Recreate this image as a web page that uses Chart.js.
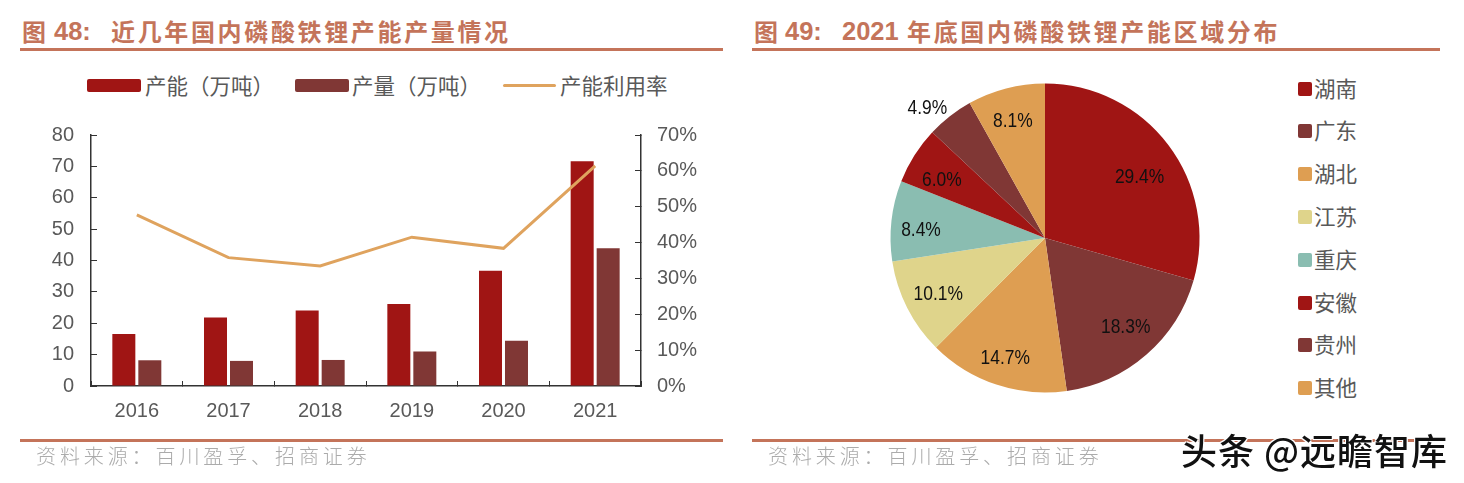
<!DOCTYPE html>
<html>
<head>
<meta charset="utf-8">
<script src="https://cdn.jsdelivr.net/npm/chart.js@4/dist/chart.umd.min.js"></script>
<style>
  html, body { margin: 0; padding: 0; background: #fff; }
  body { width: 1464px; height: 483px; position: relative; overflow: hidden; font-family: "Noto Sans CJK SC", sans-serif; }
  canvas { position: absolute; }
  .title { position: absolute; top: 14px; font-size: 24px; font-weight: 700; color: #C4745A; letter-spacing: 2.65px; white-space: pre; line-height: 34px; }
  .title.num { font-family: "Liberation Sans", Arial, sans-serif; font-size: 25.5px; letter-spacing: 0; }
  .rule { position: absolute; height: 3px; background: #C4745A; }
  .source { position: absolute; top: 441px; font-size: 20px; color: #ABABAB; letter-spacing: 3.9px; white-space: pre; line-height: 30px; font-weight: 300; }
  .legend-text { position: absolute; font-size: 21.5px; color: #595959; white-space: pre; line-height: 30px; }
  .swatch { position: absolute; border-radius: 2px; }
  #mark { position: absolute; left: 1181px; top: 426px; font-size: 36px; line-height: 46px; color: #111; white-space: pre; letter-spacing: 1px; font-weight: 500; text-shadow: 1px 1px 0 #fff, -1px -1px 0 #fff, 1px -1px 0 #fff, -1px 1px 0 #fff; }
</style>
</head>
<body>
<div class="title" style="left:22px">图</div>
<div class="title num" style="left:54px">48:</div>
<div class="title" style="left:111px">近几年国内磷酸铁锂产能产量情况</div>
<div class="rule" style="left:20px;top:48px;width:703px"></div>
<div class="title" style="left:754px">图</div>
<div class="title num" style="left:785px">49:</div>
<div class="title num" style="left:842px">2021</div>
<div class="title" style="left:907px">年底国内磷酸铁锂产能区域分布</div>
<div class="rule" style="left:752px;top:48px;width:688px"></div>

<canvas id="barChart" width="702" height="340" style="left:20px;top:100px"></canvas>
<canvas id="pieChart" width="400" height="360" style="left:845px;top:58px"></canvas>
<div id="legends"></div>

<div class="rule" style="left:20px;top:439px;width:703px"></div>
<div class="source" style="left:36px">资料来源&#xFF1A;百川盈孚、招商证券</div>
<div class="rule" style="left:752px;top:439px;width:688px"></div>
<div class="source" style="left:768px">资料来源&#xFF1A;百川盈孚、招商证券</div>
<div id="mark">头条 @远瞻智库</div>

<script>
// left chart
var years = ['2016', '2017', '2018', '2019', '2020', '2021'];
var capacity = [16.6, 21.8, 24.1, 26.1, 36.7, 71.6];
var output = [8.2, 8.0, 8.3, 11.0, 14.4, 43.9];
var utilization = [47.7, 35.8, 33.5, 41.5, 38.4, 61.4];
var seriesNames = ['产能\uFF08万吨\uFF09', '产量\uFF08万吨\uFF09', '产能利用率'];

// right chart
var regions = ['湖南', '广东', '湖北', '江苏', '重庆', '安徽', '贵州', '其他'];
var shares = [29.4, 18.3, 14.7, 10.1, 8.4, 6.0, 4.9, 8.1];
var regionColors = ['#A01514', '#803735', '#DE9E52', '#DFD48B', '#8ABDB1', '#A01514', '#803735', '#DE9E52'];

var colorCapacity = '#A01514';
var colorOutput = '#803735';
var colorLine = '#DFA35E';
var axisColor = '#333333';
var tickColor = '#595959';
var tickFont = { family: '"Liberation Sans", Arial, sans-serif', size: 20 };

Chart.defaults.animation = false;

new Chart(document.getElementById('barChart').getContext('2d'), {
  type: 'bar',
  data: {
    labels: years,
    datasets: [
      { label: seriesNames[0], data: capacity, backgroundColor: colorCapacity, yAxisID: 'y', order: 1,
        categoryPercentage: 0.567, barPercentage: 0.885 },
      { label: seriesNames[1], data: output, backgroundColor: colorOutput, yAxisID: 'y', order: 1,
        categoryPercentage: 0.567, barPercentage: 0.885 },
      { type: 'line', label: seriesNames[2], data: utilization, borderColor: colorLine, borderWidth: 3,
        pointRadius: 0, tension: 0, yAxisID: 'y1', order: 0 }
    ]
  },
  options: {
    responsive: false,
    layout: { padding: { top: 34, left: 0, right: 0, bottom: 0 } },
    plugins: { legend: { display: false }, tooltip: { enabled: false } },
    scales: {
      x: {
        grid: { drawOnChartArea: false, tickLength: -5, tickColor: axisColor, offset: true },
        border: { color: axisColor, width: 1.5 },
        ticks: { color: tickColor, font: tickFont, padding: 18, maxRotation: 0 },
        afterFit: function(scale) { scale.height = 54; }
      },
      y: {
        position: 'left', min: 0, max: 80,
        grid: { drawOnChartArea: false, tickLength: -6, tickColor: axisColor },
        border: { color: axisColor, width: 1.5 },
        ticks: { stepSize: 10, color: tickColor, font: tickFont, padding: 23 },
        afterFit: function(scale) { scale.width = 71; }
      },
      y1: {
        position: 'right', min: 0, max: 70,
        grid: { drawOnChartArea: false, tickLength: -6, tickColor: axisColor },
        border: { color: axisColor, width: 1.5 },
        ticks: { stepSize: 10, color: tickColor, font: tickFont, padding: 22,
          callback: function(v) { return v + '%'; } },
        afterFit: function(scale) { scale.width = 81; }
      }
    }
  }
});

// percent labels on the slices, nudged by hand, the 4.9% one sits outside the pie
var labelNudge = [[-1, 12], [2, -1], [-2, 7], [0, 2], [-5, 6], [-2, 7], [-12, 6], [-2, -1]];

var sliceLabels = {
  id: 'sliceLabels',
  afterDatasetsDraw: function(chart) {
    var ctx = chart.ctx;
    ctx.save();
    ctx.font = '20px "Liberation Sans", Arial, sans-serif';
    ctx.fillStyle = '#111111';
    ctx.textAlign = 'center';
    ctx.textBaseline = 'middle';
    chart.getDatasetMeta(0).data.forEach(function(arc, i) {
      var mid = (arc.startAngle + arc.endAngle) / 2;
      var r = arc.outerRadius * (shares[i] === 4.9 ? 1.11 : 0.775);
      ctx.save();
      ctx.translate(arc.x + Math.cos(mid) * r + labelNudge[i][0], arc.y + Math.sin(mid) * r + labelNudge[i][1]);
      ctx.scale(0.87, 1);
      ctx.fillText(shares[i].toFixed(1) + '%', 0, 0);
      ctx.restore();
    });
    ctx.restore();
  }
};

new Chart(document.getElementById('pieChart').getContext('2d'), {
  type: 'pie',
  data: {
    labels: regions,
    datasets: [{ data: shares, backgroundColor: regionColors, borderWidth: 0, radius: 154.5 }]
  },
  options: {
    responsive: false,
    plugins: { legend: { display: false }, tooltip: { enabled: false } }
  },
  plugins: [sliceLabels]
});

// html legends
var legends = document.getElementById('legends');

function addBox(left, top, width, height, color) {
  var d = document.createElement('div');
  d.className = 'swatch';
  d.style.cssText = 'left:' + left + 'px;top:' + top + 'px;width:' + width + 'px;height:' + height + 'px;background:' + color;
  legends.appendChild(d);
}

function addText(left, top, text) {
  var d = document.createElement('div');
  d.className = 'legend-text';
  d.style.left = left + 'px';
  d.style.top = top + 'px';
  d.textContent = text;
  legends.appendChild(d);
}

addBox(87, 79, 54, 13, colorCapacity);
addText(145, 70, seriesNames[0]);
addBox(295, 79, 54, 13, colorOutput);
addText(352, 70, seriesNames[1]);
addBox(503, 84, 53, 3, colorLine);
addText(560, 70, seriesNames[2]);

regions.forEach(function(name, i) {
  var y = 88.5 + i * 42.8;
  addBox(1298, y - 7, 14, 14, regionColors[i]);
  addText(1314, y - 16, name);
});
</script>
</body>
</html>
